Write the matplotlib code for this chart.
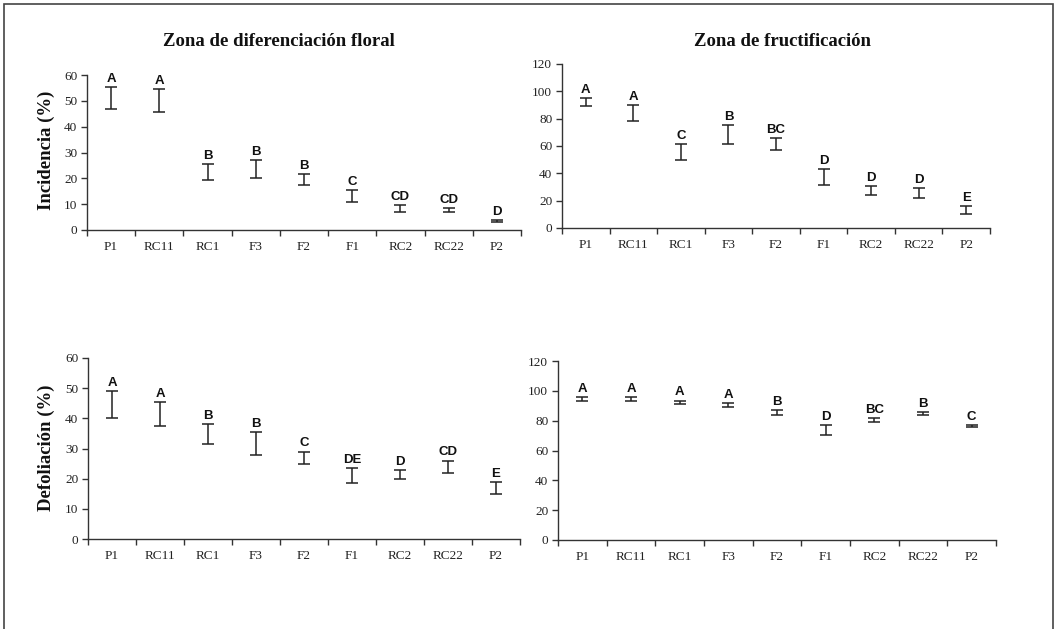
import matplotlib.pyplot as plt
from matplotlib.patches import Rectangle
from matplotlib.ticker import FixedLocator

# Treatments (x categories)
treatments = ['P1', 'RC11', 'RC1', 'F3', 'F2', 'F1', 'RC2', 'RC22', 'P2']

# Incidencia - zona de diferenciación floral (mean, half error)
inc_flor_mean = [51.25, 50.0, 22.5, 23.5, 19.5, 13.25, 8.25, 7.75, 3.5]
inc_flor_err = [4.25, 4.5, 3.0, 3.5, 2.0, 2.25, 1.25, 0.75, 0.5]
inc_flor_letters = ['A', 'A', 'B', 'B', 'B', 'C', 'CD', 'CD', 'D']

# Incidencia - zona de fructificación
inc_fruc_mean = [92.0, 84.0, 55.5, 68.5, 61.5, 37.25, 27.5, 25.5, 13.0]
inc_fruc_err = [3.0, 6.0, 6.0, 7.0, 4.5, 5.75, 3.5, 3.5, 3.0]
inc_fruc_letters = ['A', 'A', 'C', 'B', 'BC', 'D', 'D', 'D', 'E']

# Defoliación - zona de diferenciación floral
def_flor_mean = [44.5, 41.5, 34.75, 31.75, 27.0, 21.0, 21.5, 24.0, 17.0]
def_flor_err = [4.5, 4.0, 3.25, 3.75, 2.0, 2.5, 1.5, 2.0, 2.0]
def_flor_letters = ['A', 'A', 'B', 'B', 'C', 'DE', 'D', 'CD', 'E']

# Defoliación - zona de fructificación
def_fruc_mean = [94.5, 94.75, 92.5, 90.5, 85.5, 73.75, 80.5, 84.75, 76.5]
def_fruc_err = [1.5, 1.25, 1.0, 1.5, 1.5, 3.25, 1.5, 1.25, 0.5]
def_fruc_letters = ['A', 'A', 'A', 'A', 'B', 'D', 'BC', 'B', 'C']

SERIF = 'Liberation Serif'
SANS = 'Liberation Sans'
W, H = 1056, 629


def px_axes(fig, left, right, top, bottom):
    # pixel box -> figure fraction
    return fig.add_axes([left / W, 1 - bottom / H, (right - left) / W, (bottom - top) / H])


def draw_panel(ax, means, errs, letters, ymax, ystep):
    x = list(range(1, len(treatments) + 1))
    ax.errorbar(x, means, yerr=errs, fmt='none', ecolor='#222222',
                elinewidth=1.1, capsize=4, capthick=1.1)
    for xi, m, e, lab in zip(x, means, errs, letters):
        ax.annotate(lab, (xi, m + e), xytext=(0, 1.5), textcoords='offset points',
                    ha='center', va='bottom', fontsize=9.5, fontweight='bold',
                    family=SANS, color='#111111')
    ax.set_xlim(0.5, len(treatments) + 0.5)
    ax.set_ylim(0, ymax)
    ax.set_yticks(range(0, ymax + 1, ystep))
    ax.set_xticks(x)
    ax.set_xticklabels(treatments)
    ax.xaxis.set_minor_locator(FixedLocator([i + 0.5 for i in range(len(treatments) + 1)]))
    ax.tick_params(axis='x', which='major', length=0, pad=8)
    ax.tick_params(axis='x', which='minor', length=4, width=1, color='#333333')
    ax.tick_params(axis='y', length=4, width=1, color='#333333', pad=3)
    for lab in ax.get_xticklabels() + ax.get_yticklabels():
        lab.set_family(SERIF)
        lab.set_fontsize(9.5)
        lab.set_color('#222222')
    for side in ['top', 'right']:
        ax.spines[side].set_visible(False)
    for side in ['left', 'bottom']:
        ax.spines[side].set_color('#333333')
        ax.spines[side].set_linewidth(1)


fig = plt.figure(figsize=(W / 100, H / 100), dpi=100)

ax1 = px_axes(fig, 87, 521, 75, 230)
draw_panel(ax1, inc_flor_mean, inc_flor_err, inc_flor_letters, 60, 10)
ax2 = px_axes(fig, 562, 990, 64, 228)
draw_panel(ax2, inc_fruc_mean, inc_fruc_err, inc_fruc_letters, 120, 20)
ax3 = px_axes(fig, 88, 520, 358, 539)
draw_panel(ax3, def_flor_mean, def_flor_err, def_flor_letters, 60, 10)
ax4 = px_axes(fig, 558, 996, 361, 540)
draw_panel(ax4, def_fruc_mean, def_fruc_err, def_fruc_letters, 120, 20)

fig.text(279 / W, 1 - 41 / H, 'Zona de diferenciación floral', ha='center', va='center',
         family=SERIF, fontweight='bold', fontsize=13.5, color='#111111')
fig.text(783 / W, 1 - 41 / H, 'Zona de fructificación', ha='center', va='center',
         family=SERIF, fontweight='bold', fontsize=13.5, color='#111111')
fig.text(46 / W, 1 - 150 / H, 'Incidencia (%)', rotation=90, ha='center', va='center',
         family=SERIF, fontweight='bold', fontsize=13.5, color='#111111')
fig.text(46 / W, 1 - 448 / H, 'Defoliación (%)', rotation=90, ha='center', va='center',
         family=SERIF, fontweight='bold', fontsize=13.5, color='#111111')

# frame around the whole figure (bottom edge falls outside the image)
fig.patches.append(Rectangle((4 / W, -0.02), 1049 / W, 1.02 - 4 / H, transform=fig.transFigure,
                             fill=False, edgecolor='#444444', linewidth=1.2))

fig.savefig('out.png', dpi=100)
